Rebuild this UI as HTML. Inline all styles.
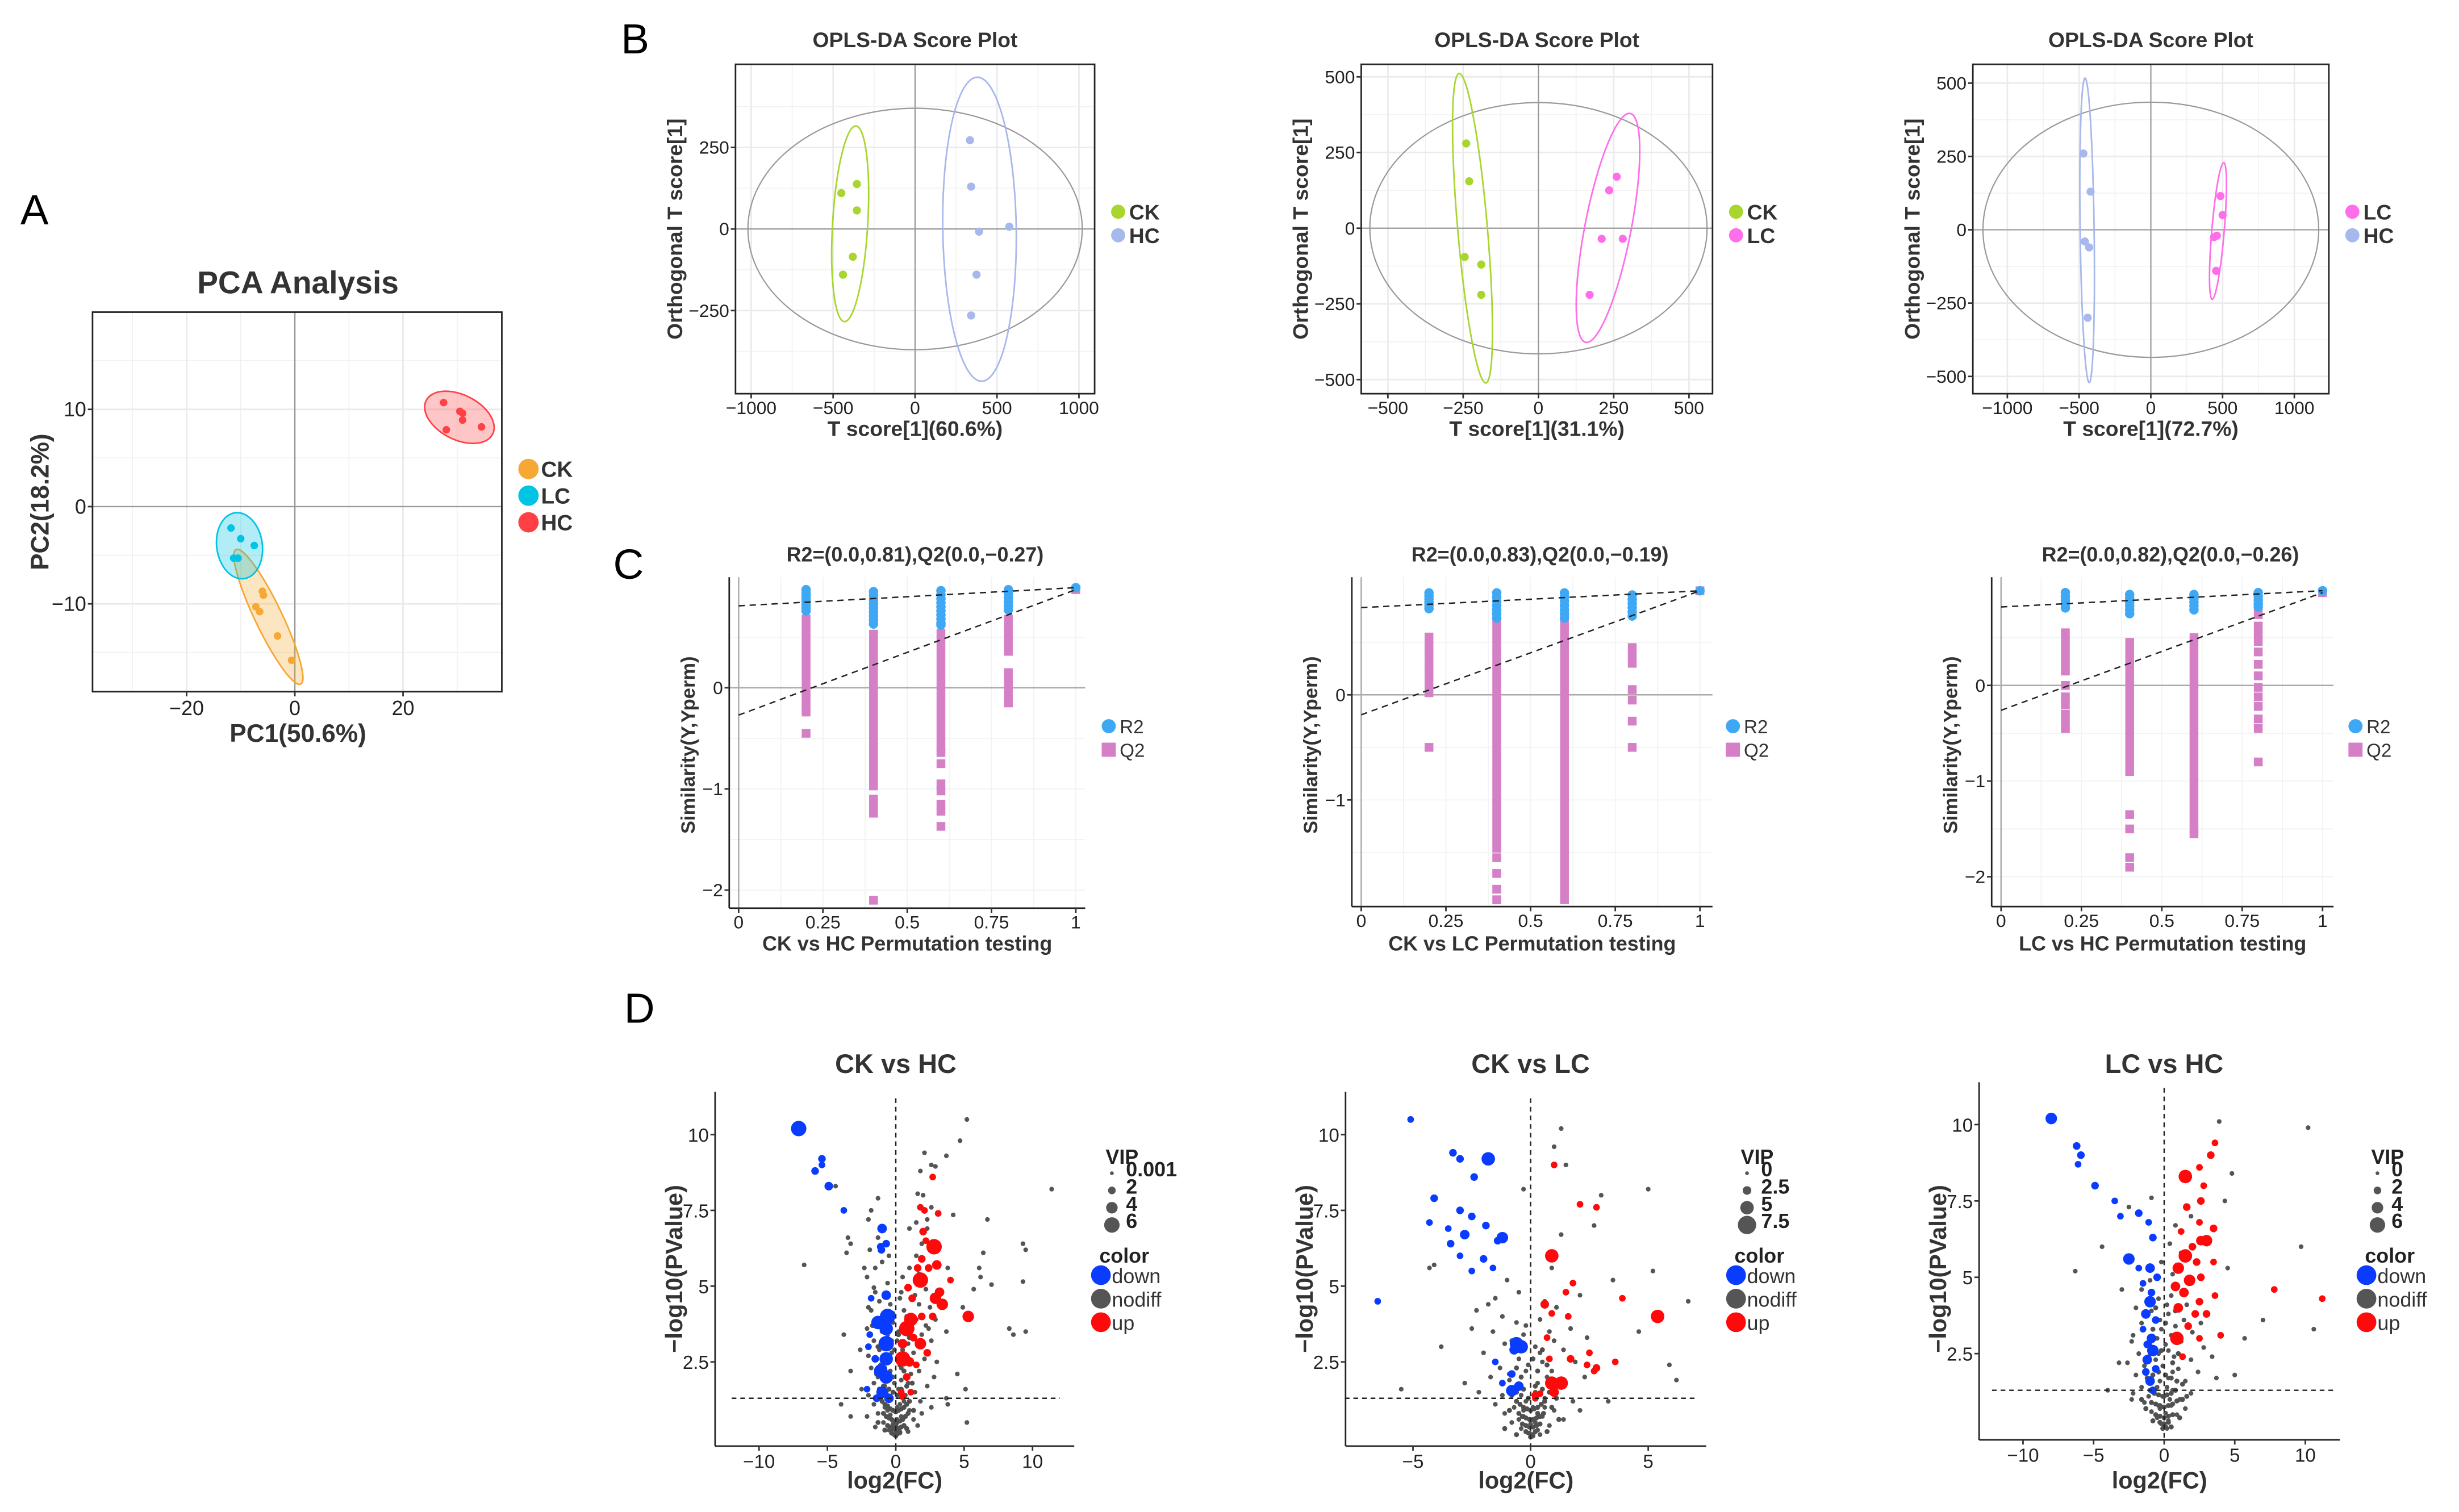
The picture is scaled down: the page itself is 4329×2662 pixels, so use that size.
<!DOCTYPE html>
<html><head><meta charset="utf-8"><title>Metabolomics figure</title>
<style>
html,body{margin:0;padding:0;background:#fff;}
svg{display:block;}
text{font-family:"Liberation Sans",Arial,sans-serif;}
.nar{font-family:"Liberation Sans Narrow","Liberation Sans",sans-serif;}
</style></head>
<body>
<svg id="fig" xmlns="http://www.w3.org/2000/svg" width="4329" height="2662" viewBox="0 0 1568 964" preserveAspectRatio="none">
<rect x="0" y="0" width="1568" height="964" fill="#fff"/>
<text x="13" y="143" font-size="27" fill="#000">A</text>
<text x="396" y="34" font-size="27" fill="#000">B</text>
<text x="391" y="369" font-size="27" fill="#000">C</text>
<text x="398" y="652" font-size="27" fill="#000">D</text>
</svg>
<script>
// ---------------- DATA ----------------
const pcaGroups = ["CK","LC","HC"];
const pcaCK = [[-6,-8.7],[-5.8,-9.1],[-7.2,-10.3],[-6.5,-10.8],[-3.2,-13.3],[-0.6,-15.8]];
const pcaLC = [[-11.8,-2.2],[-10,-3.3],[-7.5,-4],[-11.3,-5.3],[-10.5,-5.3]];
const pcaHC = [[27.5,10.7],[30.5,9.8],[31,9.6],[31,8.9],[28,7.9],[34.5,8.2]];

const b1CK = [[-450,110],[-355,138],[-355,57],[-380,-85],[-440,-140]];
const b1HC = [[335,272],[342,130],[390,-8],[575,7],[375,-140],[342,-265]];
const b2CK = [[-240,280],[-230,155],[-245,-95],[-190,-120],[-190,-220]];
const b2LC = [[260,170],[235,125],[280,-35],[210,-35],[170,-220]];
const b3LC = [[485,115],[500,50],[460,-20],[440,-25],[455,-140]];
const b3HC = [[-470,260],[-420,130],[-460,-40],[-430,-60],[-440,-300]];
const b1Hotelling = [1020,370];
const b2Hotelling = [560,415];
const b3Hotelling = [1170,435];
const b1XLabel = "T score[1](60.6%)";
const b2XLabel = "T score[1](31.1%)";
const b3XLabel = "T score[1](72.7%)";

const permX = [0.2,0.4,0.6,0.8,1];
const c1R2 = [[0.97,0.94,0.91,0.88,0.85,0.82,0.79,0.76],[0.95,0.91,0.87,0.83,0.79,0.75,0.71,0.67,0.63],[0.96,0.92,0.88,0.84,0.8,0.76,0.72,0.68,0.64,0.62],[0.97,0.93,0.89,0.85,0.81,0.77],[0.99]];
const c1Q2 = [[0.68,0.6,0.52,0.44,0.36,0.28,0.2,0.12,0.04,-0.04,-0.12,-0.2,-0.24,-0.45],
 [0.53,0.45,0.37,0.29,0.21,0.13,0.05,-0.03,-0.11,-0.19,-0.27,-0.35,-0.43,-0.51,-0.59,-0.67,-0.75,-0.83,-0.91,-0.97,-1.1,-1.17,-1.24,-2.1],
 [0.54,0.46,0.38,0.3,0.22,0.14,0.06,-0.02,-0.1,-0.18,-0.26,-0.34,-0.42,-0.5,-0.58,-0.64,-0.75,-0.95,-1.02,-1.15,-1.22,-1.37],
 [0.68,0.6,0.52,0.44,0.36,0.15,0.07,-0.01,-0.09,-0.15],[0.97]];
const c2R2 = [[0.97,0.94,0.91,0.88,0.85,0.82],[0.97,0.93,0.89,0.85,0.81,0.77,0.73],[0.97,0.93,0.89,0.85,0.81,0.77,0.73],[0.95,0.91,0.87,0.83,0.79,0.75],[0.99]];
const c2Q2 = [[0.55,0.47,0.4,0.32,0.25,0.18,0.1,0.02,-0.5],
 [0.7,0.62,0.54,0.46,0.38,0.3,0.22,0.14,0.06,-0.02,-0.1,-0.18,-0.26,-0.34,-0.42,-0.5,-0.58,-0.66,-0.74,-0.82,-0.9,-0.98,-1.06,-1.14,-1.22,-1.3,-1.38,-1.46,-1.55,-1.7,-1.85,-1.95],
 [0.75,0.67,0.59,0.51,0.43,0.35,0.27,0.19,0.11,0.03,-0.05,-0.13,-0.21,-0.29,-0.37,-0.45,-0.53,-0.61,-0.69,-0.77,-0.85,-0.93,-1.01,-1.09,-1.17,-1.25,-1.33,-1.41,-1.49,-1.57,-1.65,-1.73,-1.81,-1.89,-1.95],
 [0.45,0.37,0.3,0.05,-0.05,-0.25,-0.5],[0.99]];
const c3R2 = [[0.97,0.93,0.89,0.85,0.81],[0.95,0.91,0.87,0.83,0.79,0.75],[0.95,0.91,0.87,0.83,0.79],[0.97,0.93,0.89,0.85,0.82],[0.99]];
const c3Q2 = [[0.55,0.47,0.39,0.31,0.23,0.15,0.0,-0.12,-0.2,-0.3,-0.38,-0.45],
 [0.45,0.37,0.29,0.21,0.13,0.05,-0.03,-0.11,-0.19,-0.27,-0.35,-0.43,-0.51,-0.59,-0.67,-0.75,-0.83,-0.9,-1.35,-1.5,-1.8,-1.9],
 [0.5,0.42,0.34,0.26,0.18,0.1,0.02,-0.06,-0.14,-0.22,-0.3,-0.38,-0.46,-0.54,-0.62,-0.7,-0.78,-0.86,-0.94,-1.02,-1.1,-1.18,-1.26,-1.34,-1.42,-1.5,-1.55],
 [0.9,0.82,0.74,0.62,0.54,0.46,0.35,0.22,0.1,-0.02,-0.12,-0.22,-0.35,-0.45,-0.8],[0.97]];
const c1Intercepts = [0.81,-0.27];
const c2Intercepts = [0.83,-0.19];
const c3Intercepts = [0.82,-0.26];
const c1Title = "R2=(0.0,0.81),Q2(0.0,\u22120.27)";
const c2Title = "R2=(0.0,0.83),Q2(0.0,\u22120.19)";
const c3Title = "R2=(0.0,0.82),Q2(0.0,\u22120.26)";

const d1Down = [[-7.1,10.2,6],[-5.4,9.2,2],[-5.4,9.0,1.5],[-5.9,8.8,2],[-4.9,8.3,2.5],[-3.8,7.5,1.5],[-1.0,6.9,3],[-1.1,6.3,2],[-0.7,6.4,2],[-1.05,6.2,2],[-0.7,4.7,3],[-1.8,4.6,1.5],[-0.6,4.0,6],[-1.3,3.8,5],[-0.7,3.6,5],[-1.9,3.4,1.5],[-0.7,3.1,6],[-2,3.0,1.5],[-1.5,2.6,2],[-0.7,2.6,5],[-1.1,2.2,5],[-0.7,2.0,5],[-2.1,1.6,1.5],[-1.0,1.5,4],[-0.5,1.3,3],[-1.4,1.3,2]];
const d1Up = [[2.7,8.6,1.5],[1.8,7.6,1.5],[2.1,7.5,1.5],[3.1,7.4,1.5],[2.0,6.8,2],[2.8,6.3,6],[2.2,6.5,1.5],[1.9,5.9,2],[3.0,5.7,3],[1.6,5.6,2],[2.4,5.6,2],[1.8,5.2,6],[4.0,5.2,1.5],[0.9,4.95,2],[3.2,4.8,3],[2.9,4.6,4],[1.2,4.6,2],[3.4,4.4,4],[5.3,4.0,4],[2.7,4.0,2],[1.9,4.0,2],[1.1,3.9,5],[0.8,3.6,6],[1.3,3.3,2],[0.5,3.1,3],[1.8,3.1,4],[2.3,2.8,2],[0.5,2.6,6],[1.0,2.5,3],[1.5,2.4,1.5],[0.8,2.0,2],[0.4,1.5,1.5],[1.1,1.5,1.5],[0.5,1.35,1.5]];
const d1NoDiff = [[5.2,10.5],[4.7,9.8],[2.1,9.4],[3.7,9.3],[2.6,9.0],[2.9,8.95],[1.8,8.8],[-4.4,8.3],[11.4,8.2],[2.0,8.0],[1.6,8.05],[-1.3,7.9],[2.6,7.6],[4.2,7.35],[6.7,7.2],[-1.8,7.5],[-2.0,7.2],[1.5,7.1],[2.3,7.2],[2.3,6.9],[-3.5,6.6],[-3.3,6.4],[-1.9,6.2],[9.3,6.4],[9.5,6.2],[6.4,6.1],[-3.6,6.1],[-6.7,5.7],[-2.3,5.6],[6.1,5.6],[-1.5,5.6],[3.8,5.6],[-2.1,5.3],[6.2,5.3],[9.3,5.15],[5.7,4.9],[7.0,5.05],[-1.6,4.95],[4.9,4.3],[-2.0,4.3],[-3.8,3.4],[8.3,3.6],[8.6,3.4],[9.5,3.5],[3.7,3.5],[-2.6,2.9],[-3.3,2.2],[4.5,2.1],[-2.5,1.6],[5.1,1.6],[3.7,1.3],[3.8,1.1],[-4.0,1.1],[-3.3,0.7],[5.2,0.5],[3.0,2.5],[2.4,3.6],[2.9,3.9],
[-1.5,4.8],[-1.2,4.5],[-0.4,4.4],[0.3,4.6],[1.4,4.7],[2.2,4.9],[-1.8,4.2],[-0.9,4.1],[0.6,4.2],[1.7,4.4],[2.5,4.3],[-1.5,3.9],[-0.2,3.8],[1.5,3.9],[2.2,3.7],[-2.1,3.6],[-1.0,3.5],[0.2,3.5],[1.9,3.4],[-1.6,3.2],[-0.3,3.2],[0.9,3.1],[2.6,3.2],[-1.2,2.9],[-0.1,2.9],[1.3,2.8],[2.1,2.6],[-2.0,2.7],[-0.5,2.5],[0.4,2.3],[1.7,2.2],[2.8,2.0],[-1.8,2.3],[-1.3,2.0],[-0.2,2.0],[0.9,1.8],[2.3,1.7],[-1.6,1.8],[-0.8,1.7],[0.2,1.6],[1.4,1.5],[-2.0,1.4],[-1.2,1.3],[-0.4,1.3],[0.6,1.2],[1.8,1.2],[2.6,1.0],[-1.6,1.1],[-0.8,1.0],[0.1,1.0],[1.0,0.9],[1.9,0.8],[-1.3,0.8],[-0.4,0.75],[0.4,0.7],[1.3,0.6],[-2.1,0.7],[-0.9,0.5],[-0.2,0.45],[0.6,0.4],[1.6,0.4],[-1.5,0.35],[-0.5,0.25],[0.2,0.2],[0.9,0.2],[-0.1,0.1],[0.0,0.05],[0.3,0.15],[-0.3,0.3],[0.1,0.6],[-0.6,0.9],[0.7,1.4],[-0.1,1.8],[1.1,2.1],[-0.8,2.3],[0.5,2.9],[-0.6,3.4],[1.2,3.6],[-0.9,3.8],[0.8,4.0],[-0.6,5.1],[0.5,5.3],[-1.0,5.8],[1.5,6.0],[1.7,5.4],[-0.5,6.0],[1.9,6.4],[-0.3,0.6],[0.3,1.1],[-0.7,1.5],[0.4,1.9],[-0.4,2.2],[0.2,2.6],[-0.3,2.8],[0.1,3.2],[-0.2,4.1],[0.4,4.8],[1.0,5.6],[-1.3,6.6],[1.0,6.9]];
const d1Core = [[-1.0,1.2],[-0.8,1.1],[-0.6,1.05],[-0.4,0.95],[-0.2,0.9],[0.0,0.85],[0.2,0.9],[0.4,0.95],[0.6,1.0],[0.8,1.1],[1.0,1.2],[-0.9,0.8],[-0.7,0.7],[-0.5,0.65],[-0.3,0.6],[-0.1,0.55],[0.1,0.5],[0.3,0.55],[0.5,0.6],[0.7,0.7],[0.9,0.8],[-0.6,0.4],[-0.4,0.35],[-0.2,0.3],[0.0,0.25],[0.2,0.3],[0.4,0.35],[0.6,0.4],[-0.3,0.15],[-0.1,0.1],[0.1,0.12],[0.3,0.18],[-1.2,1.6],[-0.9,1.7],[-0.5,1.6],[-0.2,1.5],[0.1,1.4],[0.4,1.6],[0.8,1.7],[1.2,1.8],[-1.4,2.1],[-1.1,2.4],[-0.5,2.7],[0.3,2.4],[0.6,2.2],[-1.3,3.0],[0.2,3.4],[-0.4,3.9],[1.0,3.3],[-1.7,3.7],[0.0,0.4],[-0.8,0.25],[0.8,0.3],[1.3,0.9],[-1.3,0.5]];
const d2Down = [[-5.1,10.5,1.5],[-3.3,9.4,2],[-3.0,9.2,2],[-1.8,9.2,5],[-2.4,8.6,2],[-4.1,7.9,2],[-3.0,7.5,2],[-2.5,7.3,2],[-4.3,7.1,1.5],[-3.5,6.9,1.5],[-1.9,7.0,2],[-3.4,6.4,2],[-2.8,6.7,3],[-1.4,6.5,2],[-1.2,6.6,4],[-3.0,6.0,1.5],[-2.0,5.9,2],[-1.6,5.6,1.5],[-2.5,5.5,1.5],[-6.5,4.5,1.5],[-0.6,3.1,5],[-0.7,2.9,3],[-0.4,3.0,5],[-1.5,2.5,1.5],[-0.8,1.55,4],[-0.5,1.7,3],[-0.8,2.1,2],[-1.2,1.8,1.5]];
const d2Up = [[0.9,6.0,5],[1.0,9.0,1.5],[2.1,7.7,1.5],[2.8,7.6,1.5],[5.4,4.0,5],[0.6,4.4,2.5],[1.6,4.0,1.5],[0.9,4.1,1.5],[1.5,4.8,1.5],[1.8,5.1,1.5],[3.9,4.6,1.5],[0.7,3.3,1.5],[0.8,2.6,1.5],[1.7,2.6,2],[2.5,2.8,1.5],[2.4,2.4,1.5],[2.8,2.3,2],[3.6,2.5,1.5],[2.7,2.2,1.5],[0.9,1.8,5],[1.3,1.8,5],[1.0,1.5,3],[0.2,1.4,2],[0.4,1.45,1.5],[0.2,1.3,1.5]];
const d2NoDiff = [[1.3,10.2],[1.0,9.6],[1.5,9.0],[-0.3,8.2],[3.0,8.0],[5.0,8.2],[2.7,7.0],[1.3,6.7],[-1.5,4.6],[2.1,4.7],[3.5,5.2],[-2.3,4.2],[4.6,3.5],[-3.8,3.0],[5.9,2.4],[-2.8,1.8],[6.2,1.9],[-5.5,1.6],[3.3,1.2],[-1.0,5.2],[0.9,5.6],[-0.5,4.8],[5.2,5.5],[6.7,4.5],[-4.3,5.6],[-4.1,5.7],
[-1.2,4.0],[-0.6,3.8],[0.4,3.9],[1.1,4.3],[-1.6,3.5],[-0.3,3.4],[0.8,3.5],[1.7,3.6],[-1.1,3.1],[0.2,3.0],[1.4,2.9],[-2.0,2.8],[-0.5,2.6],[0.5,2.5],[1.9,2.5],[-1.3,2.3],[-0.2,2.2],[0.9,2.2],[2.3,2.0],[-1.7,2.0],[-0.9,1.9],[0.3,1.8],[1.3,1.7],[-2.2,1.5],[-1.2,1.4],[-0.4,1.4],[0.6,1.3],[1.8,1.2],[-1.5,1.1],[-0.7,1.0],[0.1,1.0],[1.0,0.9],[2.1,0.9],[-1.1,0.8],[-0.3,0.7],[0.5,0.7],[1.4,0.6],[-0.8,0.5],[0.0,0.45],[0.8,0.4],[-0.4,0.3],[0.3,0.25],[-0.1,0.15],[0.1,0.05],[0.2,0.5],[-0.5,0.6],[0.6,1.0],[-0.2,1.2],[0.2,1.5],[-0.6,1.7],[0.7,2.0],[-0.1,2.4],[0.4,2.8],[-0.8,3.2],[1.0,3.2],[-0.2,3.7],[0.6,4.5],[-1.8,4.4],[1.6,4.0],[2.4,3.3],[-2.5,3.6],[-0.3,0.9],[0.4,0.1],[-0.2,0.2]];
const d2Core = [[-0.6,1.2],[-0.45,1.1],[-0.3,1.0],[-0.15,0.95],[0.0,0.9],[0.15,0.95],[0.3,1.0],[0.45,1.1],[0.6,1.2],[-0.5,0.8],[-0.35,0.7],[-0.2,0.65],[-0.05,0.6],[0.1,0.6],[0.25,0.65],[0.4,0.7],[0.55,0.8],[-0.35,0.45],[-0.2,0.4],[-0.05,0.35],[0.1,0.35],[0.25,0.4],[0.4,0.45],[-0.2,0.2],[-0.05,0.15],[0.1,0.1],[0.2,0.2],[0.0,0.02],[-0.8,1.4],[-0.6,1.5],[-0.3,1.6],[0.2,1.7],[0.5,1.6],[0.8,1.5],[1.1,1.3],[-0.9,2.1],[-0.6,2.3],[0.3,2.2],[0.7,2.4],[0.5,2.9],[-0.4,2.0],[0.1,2.6],[0.9,1.0],[-0.9,0.9],[1.2,0.6],[-1.1,0.3],[0.7,0.2],[-0.6,0.1],[0.3,0.8],[-0.1,1.3]];
const d3Down = [[-8.0,10.2,4],[-6.2,9.3,2],[-5.9,9.0,2],[-6.1,8.7,1.5],[-4.9,8.0,2],[-3.5,7.5,1.5],[-3.1,7.0,1.5],[-1.8,7.1,2],[-1.1,6.8,1.5],[-0.8,6.3,2],[-2.5,5.6,4],[-1.8,5.3,1.5],[-1.0,5.3,3],[-0.5,5.0,2],[-1.5,4.8,1.5],[-0.9,4.5,2],[-1.0,4.2,4],[-1.3,3.8,3],[-0.6,3.6,2],[-1.5,3.3,1.5],[-0.9,3.0,3],[-1.2,2.8,2],[-0.8,2.6,4],[-1.2,2.3,3],[-0.6,2.0,2],[-1.0,1.6,3],[-0.8,1.3,2],[-1.3,1.9,2]];
const d3Up = [[1.5,8.3,5],[2.5,8.6,1.5],[3.6,9.4,1.5],[3.3,9.0,2],[2.8,8.0,1.5],[2.6,7.5,2],[1.6,7.3,2],[2.5,6.8,1.5],[3.5,6.6,2],[1.2,6.5,1.5],[2.6,6.2,3],[3.0,6.2,4],[2.0,6.0,2],[1.5,5.7,5],[3.5,5.5,1.5],[2.3,5.5,2],[1.0,5.3,4],[2.6,5.0,2],[1.8,4.9,4],[0.8,4.7,3],[1.4,4.5,3],[2.5,4.2,2],[3.6,4.4,1.5],[1.0,4.0,3],[2.2,3.8,2],[3.0,3.8,2],[1.7,3.4,2],[0.9,3.0,5],[2.5,3.0,1.5],[4.0,3.1,1.5],[7.8,4.6,1.5],[11.2,4.3,1.5],[1.3,2.4,1.5]];
const d3NoDiff = [[3.9,10.1],[10.2,9.9],[4.8,8.4],[4.3,7.5],[-2.5,7.3],[9.7,6.0],[-6.3,5.2],[-4.4,6.0],[7.0,3.6],[10.6,3.3],[-3.2,2.2],[5.0,1.8],[-2.3,1.0],[3.7,1.7],[-4.0,1.3],[5.7,3.0],[-3.0,4.6],[4.5,5.3],[-2.2,3.1],[3.4,2.4],
[-1.6,4.6],[-0.4,4.3],[0.5,4.4],[1.6,4.1],[-2.0,4.0],[-0.9,3.9],[0.3,3.8],[1.4,3.6],[2.6,3.5],[-1.6,3.5],[-0.2,3.3],[0.8,3.4],[2.0,3.2],[-2.3,2.9],[-1.0,2.8],[0.1,2.8],[1.2,2.9],[2.8,2.7],[-1.8,2.5],[-0.4,2.5],[0.7,2.4],[1.9,2.3],[-2.6,2.2],[-1.4,2.1],[-0.1,2.1],[1.0,2.0],[2.4,1.9],[-2.0,1.8],[-0.9,1.7],[0.3,1.7],[1.5,1.6],[-1.6,1.4],[-0.5,1.4],[0.6,1.3],[1.9,1.2],[-2.2,1.2],[-1.1,1.1],[0.0,1.1],[1.1,1.0],[-1.4,0.9],[-0.4,0.8],[0.5,0.8],[1.5,0.7],[-0.9,0.6],[0.1,0.55],[0.9,0.5],[-0.5,0.4],[0.3,0.3],[-0.2,0.2],[0.0,0.1],[0.2,0.05],[-0.3,0.7],[0.4,1.0],[-0.7,1.2],[0.2,1.4],[-0.3,1.6],[0.6,1.9],[-0.6,2.3],[0.3,2.6],[-0.5,3.0],[0.5,3.1],[-0.3,3.6],[0.2,4.1],[-1.0,4.9],[0.6,5.1],[1.2,5.8],[-0.2,5.5],[0.4,6.1],[1.9,7.0],[0.8,6.7],[-0.9,7.6]];
const d3Core = [[-1.0,1.3],[-0.7,1.2],[-0.4,1.15],[-0.1,1.1],[0.2,1.15],[0.5,1.2],[0.8,1.3],[-0.9,0.9],[-0.6,0.85],[-0.3,0.8],[0.0,0.75],[0.3,0.8],[0.6,0.85],[0.9,0.95],[-0.6,0.5],[-0.3,0.45],[0.0,0.4],[0.3,0.45],[0.6,0.5],[-0.3,0.25],[0.0,0.2],[0.3,0.25],[-0.1,0.05],[0.1,0.1],[-1.2,1.7],[-0.8,1.8],[-0.4,1.9],[0.1,1.8],[0.5,1.7],[0.9,1.6],[1.3,1.5],[-1.1,2.4],[-0.2,2.6],[0.6,2.2],[1.0,2.5],[-0.8,3.3],[0.1,3.5],[0.8,3.9],[-0.6,4.0],[1.3,1.0],[-1.3,0.7],[1.1,0.4],[-0.8,0.3],[0.5,0.1],[-1.6,1.0],[1.6,1.1]];
const d1VipLegend = ["0.001","2","4","6"];
const d1VipSizes = [0.001,2,4,6];
const d2VipLegend = ["0","2.5","5","7.5"];
const d2VipSizes = [0,2.5,5,7.5];
const d3VipLegend = ["0","2","4","6"];
const d3VipSizes = [0,2,4,6];

// ---------------- HELPERS ----------------
const NS = "http://www.w3.org/2000/svg";
const fig = document.getElementById("fig");
function mk(parent, tag, attrs, name) {
  const e = document.createElementNS(NS, tag);
  for (const k in attrs) e.setAttribute(k, attrs[k]);
  
  
  parent.appendChild(e);
  return e;
}
function tx(parent, x, y, s, size, name, opt) {
  opt = opt || {};
  const a = {x: x, y: y, "font-size": size, fill: opt.fill || "#222", "text-anchor": opt.anchor || "middle"};
  if (opt.bold) a["font-weight"] = "bold";
  if (opt.cls) a["class"] = opt.cls;
  if (opt.rot) a.transform = "rotate(-90 " + x + " " + y + ")";
  const t = mk(parent, "text", a, name);
  t.textContent = s;
  return t;
}
function lin(d0, d1, r0, r1) { return v => r0 + (v - d0) * (r1 - r0) / (d1 - d0); }
function fmt(v) { return (v < 0 ? "\u2212" : "") + Math.abs(v); }
function covEllipse(g, pts, xs, ys, k, fill, stroke, fop, name) {
  const P = pts.map(p => [xs(p[0]), ys(p[1])]);
  const n = P.length;
  const mx = P.reduce((s, p) => s + p[0], 0) / n, my = P.reduce((s, p) => s + p[1], 0) / n;
  let a = 0, b = 0, c = 0;
  P.forEach(p => { a += (p[0]-mx)*(p[0]-mx); b += (p[0]-mx)*(p[1]-my); c += (p[1]-my)*(p[1]-my); });
  a /= (n-1); b /= (n-1); c /= (n-1);
  const m = (a + c) / 2, d = Math.sqrt(((a - c) / 2) ** 2 + b * b);
  const l1 = m + d, l2 = Math.max(m - d, 0.5);
  const ang = 0.5 * Math.atan2(2 * b, a - c) * 180 / Math.PI;
  mk(g, "ellipse", {cx: mx, cy: my, rx: k * Math.sqrt(l1), ry: k * Math.sqrt(l2), transform: "rotate(" + ang + " " + mx + " " + my + ")", fill: fill, "fill-opacity": fop, stroke: stroke, "stroke-width": 1}, name);
}

// ---------------- PANEL A ----------------
(function () {
  const g = mk(fig, "g", {}, "pca-panel");
  const L = 59, T = 199, R = 320, B = 441;
  const xs = lin(-20, 20, 119, 257), ys = lin(-10, 10, 385, 261);
  tx(g, 190, 187, "PCA Analysis", 20, "pca-title", {bold: true, fill: "#333"});
  [-30, -10, 10, 30].forEach(v => mk(g, "line", {x1: xs(v), x2: xs(v), y1: T, y2: B, stroke: "#f0f0f0", "stroke-width": 0.6}, "x-minor-grid"));
  [-15, -5, 5, 15].forEach(v => mk(g, "line", {x1: L, x2: R, y1: ys(v), y2: ys(v), stroke: "#f0f0f0", "stroke-width": 0.6}, "y-minor-grid"));
  [-20, 20].forEach(v => mk(g, "line", {x1: xs(v), x2: xs(v), y1: T, y2: B, stroke: "#ebebeb", "stroke-width": 1.1}, "x-major-grid"));
  [-10, 10].forEach(v => mk(g, "line", {x1: L, x2: R, y1: ys(v), y2: ys(v), stroke: "#ebebeb", "stroke-width": 1.1}, "y-major-grid"));
  mk(g, "line", {x1: xs(0), x2: xs(0), y1: T, y2: B, stroke: "#999", "stroke-width": 0.9}, "x-zero-line");
  mk(g, "line", {x1: L, x2: R, y1: ys(0), y2: ys(0), stroke: "#999", "stroke-width": 0.9}, "y-zero-line");
  const groups = [[pcaCK, "#F5A833", "ck"], [pcaLC, "#00C4E3", "lc"], [pcaHC, "#FF4146", "hc"]];
  groups.forEach(gr => covEllipse(g, gr[0], xs, ys, 2.55, gr[1], gr[1], 0.3, "pca-ellipse-" + gr[2]));
  groups.forEach(gr => gr[0].forEach(p => mk(g, "circle", {cx: xs(p[0]), cy: ys(p[1]), r: 2.4, fill: gr[1]}, "pca-point-" + gr[2])));
  mk(g, "rect", {x: L, y: T, width: R - L, height: B - T, fill: "none", stroke: "#222", "stroke-width": 1}, "pca-frame");
  [-20, 0, 20].forEach(v => { mk(g, "line", {x1: xs(v), x2: xs(v), y1: B, y2: B + 3, stroke: "#333"}, "x-tick"); tx(g, xs(v), B + 15, fmt(v), 13, "x-tick-label", {fill: "#222"}); });
  [-10, 0, 10].forEach(v => { mk(g, "line", {x1: L - 3, x2: L, y1: ys(v), y2: ys(v), stroke: "#333"}, "y-tick"); tx(g, L - 4, ys(v) + 4.5, fmt(v), 13, "y-tick-label", {anchor: "end"}); });
  tx(g, 190, 473, "PC1(50.6%)", 16, "x-axis-title", {bold: true, fill: "#333"});
  tx(g, 31, 320, "PC2(18.2%)", 16, "y-axis-title", {bold: true, fill: "#333", rot: true});
  const lg = [["CK", "#F5A833", 299], ["LC", "#00C4E3", 316], ["HC", "#FF4146", 333]];
  lg.forEach(e => { mk(g, "circle", {cx: 337, cy: e[2], r: 6.5, fill: e[1]}, "legend-swatch-" + e[0].toLowerCase()); tx(g, 345, e[2] + 5, e[0], 14, "legend-entry-" + e[0].toLowerCase(), {bold: true, anchor: "start", fill: "#333"}); });
})();

// ---------------- PANEL B ----------------
function opls(cfg) {
  const g = mk(fig, "g", {}, cfg.name);
  const [L, T, R, B] = cfg.box;
  const xs = cfg.xs, ys = cfg.ys;
  tx(g, (L + R) / 2, 30, "OPLS-DA Score Plot", 13.5, "opls-title", {bold: true, cls: "nar", fill: "#333"});
  cfg.xminor.forEach(v => mk(g, "line", {x1: xs(v), x2: xs(v), y1: T, y2: B, stroke: "#f2f2f2", "stroke-width": 0.6}, "x-minor-grid"));
  cfg.yminor.forEach(v => mk(g, "line", {x1: L, x2: R, y1: ys(v), y2: ys(v), stroke: "#f2f2f2", "stroke-width": 0.6}, "y-minor-grid"));
  cfg.xticks.forEach(v => v !== 0 && mk(g, "line", {x1: xs(v), x2: xs(v), y1: T, y2: B, stroke: "#ebebeb", "stroke-width": 1}, "x-major-grid"));
  cfg.yticks.forEach(v => v !== 0 && mk(g, "line", {x1: L, x2: R, y1: ys(v), y2: ys(v), stroke: "#ebebeb", "stroke-width": 1}, "y-major-grid"));
  mk(g, "line", {x1: xs(0), x2: xs(0), y1: T, y2: B, stroke: "#999", "stroke-width": 0.8}, "x-zero-line");
  mk(g, "line", {x1: L, x2: R, y1: ys(0), y2: ys(0), stroke: "#999", "stroke-width": 0.8}, "y-zero-line");
  mk(g, "ellipse", {cx: xs(0), cy: ys(0), rx: xs(cfg.hot[0]) - xs(0), ry: ys(0) - ys(cfg.hot[1]), fill: "none", stroke: "#999", "stroke-width": 0.8}, "hotelling-ellipse");
  cfg.groups.forEach(gr => covEllipse(g, gr.pts, xs, ys, 2.45, "none", gr.color, 0, "group-ellipse-" + gr.label.toLowerCase()));
  cfg.groups.forEach(gr => gr.pts.forEach(p => mk(g, "circle", {cx: xs(p[0]), cy: ys(p[1]), r: 2.6, fill: gr.color}, "score-point-" + gr.label.toLowerCase())));
  mk(g, "rect", {x: L, y: T, width: R - L, height: B - T, fill: "none", stroke: "#222", "stroke-width": 1}, "plot-frame");
  cfg.xticks.forEach(v => { mk(g, "line", {x1: xs(v), x2: xs(v), y1: B, y2: B + 3, stroke: "#333"}, "x-tick"); tx(g, xs(v), B + 13, fmt(v), 11.5, "x-tick-label", {cls: "nar"}); });
  cfg.yticks.forEach(v => { mk(g, "line", {x1: L - 3, x2: L, y1: ys(v), y2: ys(v), stroke: "#333"}, "y-tick"); tx(g, L - 4, ys(v) + 4, fmt(v), 11.5, "y-tick-label", {anchor: "end", cls: "nar"}); });
  tx(g, (L + R) / 2, 278, cfg.xlabel, 13.5, "x-axis-title", {bold: true, cls: "nar", fill: "#333"});
  tx(g, L - 34, 146, "Orthogonal T score[1]", 13.5, "y-axis-title", {bold: true, fill: "#333", rot: true});
  cfg.groups.forEach((gr, i) => { mk(g, "circle", {cx: R + 15, cy: 135 + 15 * i, r: 4.5, fill: gr.color}, "legend-swatch"); tx(g, R + 22, 140 + 15 * i, gr.label, 13.5, "legend-entry-" + gr.label.toLowerCase(), {bold: true, anchor: "start", cls: "nar", fill: "#333"}); });
}
const GREEN = "#A8D62E", LAV = "#A7B8EC", MAG = "#FF6EEA";
opls({name: "opls-ck-hc", box: [469, 41, 698, 251], xs: lin(-1000, 1000, 479, 688), ys: lin(-250, 250, 198, 94), xticks: [-1000, -500, 0, 500, 1000], xminor: [-750, -250, 250, 750], yticks: [-250, 0, 250], yminor: [-375, -125, 125, 375], hot: b1Hotelling, xlabel: b1XLabel, groups: [{label: "CK", color: GREEN, pts: b1CK}, {label: "HC", color: LAV, pts: b1HC}]});
opls({name: "opls-ck-lc", box: [868, 41, 1092, 251], xs: lin(-500, 500, 885, 1077), ys: lin(-500, 500, 242, 49), xticks: [-500, -250, 0, 250, 500], xminor: [-375, -125, 125, 375], yticks: [-500, -250, 0, 250, 500], yminor: [-375, -125, 125, 375], hot: b2Hotelling, xlabel: b2XLabel, groups: [{label: "CK", color: GREEN, pts: b2CK}, {label: "LC", color: MAG, pts: b2LC}]});
opls({name: "opls-lc-hc", box: [1258, 41, 1485, 251], xs: lin(-1000, 1000, 1280, 1463), ys: lin(-500, 500, 240, 53), xticks: [-1000, -500, 0, 500, 1000], xminor: [-750, -250, 250, 750], yticks: [-500, -250, 0, 250, 500], yminor: [-375, -125, 125, 375], hot: b3Hotelling, xlabel: b3XLabel, groups: [{label: "LC", color: MAG, pts: b3LC}, {label: "HC", color: LAV, pts: b3HC}]});

// ---------------- PANEL C ----------------
function perm(cfg) {
  const g = mk(fig, "g", {}, cfg.name);
  const {L, T, R, B, xs, ys} = cfg;
  tx(g, (L + R) / 2 + 5, 358, cfg.title, 13, "perm-title", {bold: true, cls: "nar", fill: "#333"});
  [0.125, 0.375, 0.625, 0.875, 0.25, 0.5, 0.75, 1].forEach(v => mk(g, "line", {x1: xs(v), x2: xs(v), y1: T, y2: B, stroke: "#f3f3f3", "stroke-width": 0.7}, "x-grid"));
  cfg.ygrid.forEach(v => mk(g, "line", {x1: L, x2: R, y1: ys(v), y2: ys(v), stroke: "#f3f3f3", "stroke-width": 0.7}, "y-grid"));
  mk(g, "line", {x1: xs(0), x2: xs(0), y1: T, y2: B, stroke: "#aaa", "stroke-width": 0.9}, "x-zero-line");
  mk(g, "line", {x1: L, x2: R, y1: ys(0), y2: ys(0), stroke: "#aaa", "stroke-width": 0.9}, "y-zero-line");
  permX.forEach((x, i) => cfg.q2[i].forEach(v => mk(g, "rect", {x: xs(x) - 2.8, y: ys(v) - 2.8, width: 5.6, height: 5.6, fill: "#D580C6"}, "q2-point")));
  permX.forEach((x, i) => cfg.r2[i].forEach(v => mk(g, "circle", {cx: xs(x), cy: ys(v), r: 3, fill: "#3FA8F5"}, "r2-point")));
  const r2end = cfg.r2[4][0], q2end = cfg.q2[4][0];
  mk(g, "line", {x1: xs(0), y1: ys(cfg.icpt[0]), x2: xs(1), y2: ys(r2end), stroke: "#222", "stroke-width": 0.9, "stroke-dasharray": "4,3"}, "r2-regression-line");
  mk(g, "line", {x1: xs(0), y1: ys(cfg.icpt[1]), x2: xs(1), y2: ys(q2end), stroke: "#222", "stroke-width": 0.9, "stroke-dasharray": "4,3"}, "q2-regression-line");
  mk(g, "line", {x1: L, x2: L, y1: T, y2: B, stroke: "#222", "stroke-width": 1}, "y-axis-line");
  mk(g, "line", {x1: L, x2: R, y1: B, y2: B, stroke: "#222", "stroke-width": 1}, "x-axis-line");
  const xl = ["0", "0.25", "0.5", "0.75", "1"];
  [0, 0.25, 0.5, 0.75, 1].forEach((v, i) => { mk(g, "line", {x1: xs(v), x2: xs(v), y1: B, y2: B + 3, stroke: "#333"}, "x-tick"); tx(g, xs(v), B + 13, xl[i], 11.5, "x-tick-label", {cls: "nar"}); });
  cfg.yticks.forEach(v => { mk(g, "line", {x1: L - 3, x2: L, y1: ys(v), y2: ys(v), stroke: "#333"}, "y-tick"); tx(g, L - 4, ys(v) + 4, fmt(v), 11.5, "y-tick-label", {anchor: "end", cls: "nar"}); });
  tx(g, (L + R) / 2, 606, cfg.xlabel, 13, "x-axis-title", {bold: true, cls: "nar", fill: "#333"});
  tx(g, L - 22, 475, "Similarity(Y,Yperm)", 12.5, "y-axis-title", {bold: true, fill: "#333", rot: true});
  mk(g, "circle", {cx: cfg.lx, cy: 463, r: 4.5, fill: "#3FA8F5"}, "legend-swatch-r2");
  tx(g, cfg.lx + 7, 467.5, "R2", 12, "legend-entry-r2", {anchor: "start", cls: "nar", fill: "#333"});
  mk(g, "rect", {x: cfg.lx - 4.5, y: 473.5, width: 9, height: 9, fill: "#D580C6"}, "legend-swatch-q2");
  tx(g, cfg.lx + 7, 482.5, "Q2", 12, "legend-entry-q2", {anchor: "start", cls: "nar", fill: "#333"});
}
perm({name: "perm-ck-hc", L: 465, T: 368, R: 692, B: 579, xs: lin(0, 1, 471, 686), ys: lin(0, -1, 438.5, 503), ygrid: [-2, -1.5, -1, -0.5, 0.5], yticks: [-2, -1, 0], r2: c1R2, q2: c1Q2, icpt: c1Intercepts, title: c1Title, xlabel: "CK vs HC Permutation testing", lx: 707});
perm({name: "perm-ck-lc", L: 862, T: 368, R: 1092, B: 578, xs: lin(0, 1, 868, 1084), ys: lin(0, -1, 443, 510), ygrid: [-1.5, -1, -0.5, 0.5], yticks: [-1, 0], r2: c2R2, q2: c2Q2, icpt: c2Intercepts, title: c2Title, xlabel: "CK vs LC Permutation testing", lx: 1105});
perm({name: "perm-lc-hc", L: 1270, T: 368, R: 1488, B: 578, xs: lin(0, 1, 1276, 1481), ys: lin(0, -1, 437, 498), ygrid: [-2, -1.5, -1, -0.5, 0.5], yticks: [-2, -1, 0], r2: c3R2, q2: c3Q2, icpt: c3Intercepts, title: c3Title, xlabel: "LC vs HC Permutation testing", lx: 1502});

// ---------------- PANEL D ----------------
function vipR(v) { return 1.2 + v * 0.62; }
function volcano(cfg) {
  const g = mk(fig, "g", {}, cfg.name);
  const {L, T, R, B, xs, ys} = cfg;
  tx(g, xs(0), 684, cfg.title, 17, "volcano-title", {bold: true, fill: "#333"});
  cfg.nodiff.forEach(p => mk(g, "circle", {cx: xs(p[0]), cy: ys(p[1]), r: 1.5, fill: "#555"}, "nodiff-point"));
  cfg.core.forEach(p => mk(g, "circle", {cx: xs(p[0]), cy: ys(p[1]), r: 1.6, fill: "#505050"}, "nodiff-point"));
  cfg.down.forEach(p => mk(g, "circle", {cx: xs(p[0]), cy: ys(p[1]), r: vipR(p[2]), fill: "#0A3CFF"}, "down-point"));
  cfg.up.forEach(p => mk(g, "circle", {cx: xs(p[0]), cy: ys(p[1]), r: vipR(p[2]), fill: "#FF0A0A"}, "up-point"));
  mk(g, "line", {x1: xs(0), x2: xs(0), y1: ys(11.2), y2: B, stroke: "#222", "stroke-width": 0.9, "stroke-dasharray": "3,2.5"}, "fc-threshold-line");
  mk(g, "line", {x1: xs(cfg.hx[0]), x2: xs(cfg.hx[1]), y1: ys(1.3), y2: ys(1.3), stroke: "#222", "stroke-width": 0.9, "stroke-dasharray": "3,2.5"}, "p-threshold-line");
  mk(g, "line", {x1: L, x2: L, y1: T, y2: B, stroke: "#222", "stroke-width": 1}, "y-axis-line");
  mk(g, "line", {x1: L, x2: R, y1: B, y2: B, stroke: "#222", "stroke-width": 1}, "x-axis-line");
  cfg.xticks.forEach(v => { mk(g, "line", {x1: xs(v), x2: xs(v), y1: B, y2: B + 3, stroke: "#333"}, "x-tick"); tx(g, xs(v), B + 14, fmt(v), 12, "x-tick-label", {cls: "nar"}); });
  [2.5, 5, 7.5, 10].forEach(v => { mk(g, "line", {x1: L - 3, x2: L, y1: ys(v), y2: ys(v), stroke: "#333"}, "y-tick"); tx(g, L - 4, ys(v) + 4.5, String(v), 12, "y-tick-label", {anchor: "end", cls: "nar"}); });
  tx(g, (L + R) / 2, 949, "log2(FC)", 15, "x-axis-title", {bold: true, fill: "#333"});
  tx(g, L - 21, 809, "\u2212log10(PValue)", 15, "y-axis-title", {bold: true, fill: "#333", rot: true});
  const lx = cfg.lx;
  tx(g, lx, 742, "VIP", 13, "vip-legend-title", {bold: true, anchor: "start", fill: "#222"});
  cfg.vipSizes.forEach((v, i) => { mk(g, "circle", {cx: lx + 4, cy: 748 + 11 * i, r: vipR(v), fill: "#555"}, "vip-legend-swatch"); tx(g, lx + 13, 750 + 11 * i, cfg.vipLabels[i], 13, "vip-legend-label", {anchor: "start", bold: true, fill: "#222", cls: "nar"}); });
  tx(g, lx - 4, 805, "color", 13, "color-legend-title", {bold: true, anchor: "start", fill: "#222"});
  [["down", "#0A3CFF"], ["nodiff", "#555"], ["up", "#FF0A0A"]].forEach((e, i) => { mk(g, "circle", {cx: lx - 3, cy: 813 + 15 * i, r: 6.3, fill: e[1]}, "color-legend-swatch-" + e[0]); tx(g, lx + 4, 818 + 15 * i, e[0], 13, "color-legend-" + e[0], {anchor: "start", fill: "#333", cls: "nar"}); });
}
volcano({name: "volcano-ck-hc", title: "CK vs HC", L: 456, T: 696, R: 685, B: 922, xs: lin(0, 10, 571.2, 658.4), ys: lin(0, 10, 916.6, 723.4), xticks: [-10, -5, 0, 5, 10], hx: [-12, 12], down: d1Down, up: d1Up, nodiff: d1NoDiff, core: d1Core, lx: 705, vipLabels: d1VipLegend, vipSizes: d1VipSizes});
volcano({name: "volcano-ck-lc", title: "CK vs LC", L: 858, T: 696, R: 1088, B: 922, xs: lin(0, 5, 976, 1051), ys: lin(0, 10, 916.6, 723.4), xticks: [-5, 0, 5], hx: [-7.9, 7.1], down: d2Down, up: d2Up, nodiff: d2NoDiff, core: d2Core, lx: 1110, vipLabels: d2VipLegend, vipSizes: d2VipSizes});
volcano({name: "volcano-lc-hc", title: "LC vs HC", L: 1262, T: 690, R: 1492, B: 918, xs: lin(0, 10, 1380, 1470), ys: lin(0, 10, 911.7, 717), xticks: [-10, -5, 0, 5, 10], hx: [-12.2, 12], down: d3Down, up: d3Up, nodiff: d3NoDiff, core: d3Core, lx: 1512, vipLabels: d3VipLegend, vipSizes: d3VipSizes});
</script>
</body></html>
